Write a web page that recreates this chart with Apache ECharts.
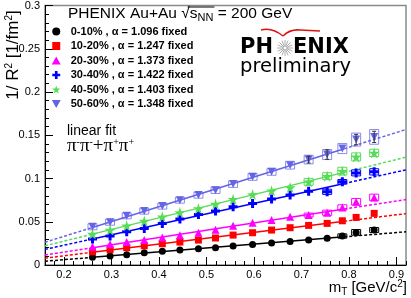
<!DOCTYPE html>
<html><head><meta charset="utf-8">
<script src="https://cdn.jsdelivr.net/npm/echarts@6/dist/echarts.min.js"></script>
<style>html,body{margin:0;padding:0;background:#fff}#c{width:411px;height:298px}</style>
</head><body><div id="c"></div>
<script>
// ---- data ----
const mT = [0.26, 0.297, 0.332, 0.369, 0.407, 0.444, 0.483, 0.519, 0.556, 0.597, 0.637, 0.676, 0.715, 0.754, 0.786, 0.815, 0.853];
const centralities = ['0-10%', '10-20%', '20-30%', '30-40%', '40-50%', '50-60%'];
const alphas = [1.096, 1.247, 1.373, 1.422, 1.403, 1.348];
const invR2_0_10  = [0.0089, 0.0104, 0.0119, 0.0142, 0.0158, 0.0173, 0.0188, 0.0200, 0.0219, 0.0236, 0.0254, 0.0273, 0.0288, 0.0308, 0.0335, 0.0377, 0.0404];
const invR2_10_20 = [0.0153, 0.0177, 0.0200, 0.0223, 0.0246, 0.0265, 0.0288, 0.0312, 0.0346, 0.0373, 0.0404, 0.0431, 0.0458, 0.0481, 0.0511, 0.0550, 0.0597];
const invR2_20_30 = [0.0211, 0.0239, 0.0265, 0.0288, 0.0319, 0.0343, 0.0373, 0.0408, 0.0455, 0.0488, 0.0519, 0.0558, 0.0577, 0.0604, 0.0666, 0.0731, 0.0781];
const invR2_30_40 = [0.0300, 0.0335, 0.0384, 0.0423, 0.0481, 0.0531, 0.0585, 0.0623, 0.0673, 0.0712, 0.0762, 0.0808, 0.0854, 0.0846, 0.0961, 0.1065, 0.1077];
const invR2_40_50 = [0.0358, 0.0404, 0.0454, 0.0508, 0.0557, 0.0608, 0.0654, 0.0704, 0.0761, 0.0815, 0.0858, 0.0896, 0.0961, 0.1027, 0.1085, 0.1250, 0.1296];
const invR2_50_60 = [0.0442, 0.0495, 0.0569, 0.0623, 0.0681, 0.0750, 0.0808, 0.0865, 0.0935, 0.1019, 0.1077, 0.1154, 0.1219, 0.1277, 0.1346, 0.1450, 0.1481];
// systematic errors (half heights of the open boxes)
const sys_0_10  = [0, 0, 0, 0, 0, 0, 0, 0, 0, 0, 0, 0, 0, 0, 0.0025, 0.0033, 0.0029];
const sys_10_20 = [0, 0, 0, 0, 0, 0, 0, 0, 0, 0, 0, 0, 0, 0, 0, 0, 0];
const sys_20_30 = [0, 0, 0, 0, 0, 0, 0, 0, 0, 0, 0, 0, 0.0023, 0.0030, 0.0030, 0.0038, 0.0038];
const sys_30_40 = [0, 0, 0, 0, 0, 0, 0, 0, 0, 0, 0, 0, 0, 0.0030, 0.0027, 0.0035, 0.0036];
const sys_40_50 = [0, 0, 0, 0, 0, 0, 0, 0, 0, 0, 0, 0, 0.0040, 0.0040, 0.0045, 0.0046, 0.0042];
const sys_50_60 = [0.0035, 0.0035, 0.0035, 0.0035, 0.0035, 0.0035, 0.0035, 0.0038, 0.0038, 0.0040, 0.0040, 0.0045, 0.0050, 0.0058, 0.0058, 0.0075, 0.0085];
// statistical errors (visible bars)
const stat_50_60 = [0, 0, 0, 0, 0, 0, 0, 0, 0, 0, 0, 0, 0.0040, 0.0055, 0, 0.0060, 0.0065];
const fitMaxMT = 0.79;
const xTickLabels = [0.2, 0.3, 0.4, 0.5, 0.6, 0.7, 0.8, 0.9];
const yTickLabels = [0, 0.05, 0.1, 0.15, 0.2, 0.25, 0.3];

// ---- styling ----
const X_MIN = 0.16, X_MAX = 0.92;
const colors = ['#000000', '#ff0000', '#ff00ff', '#0000ff', '#55dd55', '#6464e6'];
const symbols = ['circle',
  'path://M0,0H10V10H0Z',
  'path://M5,0L10,9L0,9Z',
  'path://M3,0H6V3H9V6H6V9H3V6H0V3H3Z',
  'path://M50,0L61,35L98,35L68,57L79,91L50,70L21,91L32,57L2,35L39,35Z',
  'path://M0,0L10,0L5,9Z'];
const symSizes = [7, 7, 8, 9, 11, 8];
const seriesY = [invR2_0_10, invR2_10_20, invR2_20_30, invR2_30_40, invR2_40_50, invR2_50_60];
const seriesSys = [sys_0_10, sys_10_20, sys_20_30, sys_30_40, sys_40_50, sys_50_60];

function linfit(xs, ys, xmax) {
  let n = 0, sx = 0, sy = 0, sxx = 0, sxy = 0;
  for (let i = 0; i < xs.length; i++) if (xs[i] <= xmax) {
    n++; sx += xs[i]; sy += ys[i]; sxx += xs[i] * xs[i]; sxy += xs[i] * ys[i];
  }
  const b = (n * sxy - sx * sy) / (n * sxx - sx * sx);
  return [(sy - b * sx) / n, b];
}

const series = [];
seriesY.forEach((ys, k) => {
  const [a, b] = linfit(mT, ys, fitMaxMT);
  const f = x => a + b * x;
  const lineBase = { type: 'line', showSymbol: false, silent: true, z: 1, animation: false, xAxisIndex: 0 };
  series.push(Object.assign({}, lineBase, { name: 'fit' + k, data: [[mT[0], f(mT[0])], [fitMaxMT, f(fitMaxMT)]],
    lineStyle: { color: colors[k], width: 1.5 } }));
  series.push(Object.assign({}, lineBase, { name: 'fitL' + k, data: [[X_MIN, f(X_MIN)], [mT[0], f(mT[0])]],
    lineStyle: { color: colors[k], width: 1.5, type: [3, 2] } }));
  series.push(Object.assign({}, lineBase, { name: 'fitR' + k, data: [[fitMaxMT, f(fitMaxMT)], [X_MAX, f(X_MAX)]],
    lineStyle: { color: colors[k], width: 1.5, type: [3, 2] } }));
  const boxData = [];
  mT.forEach((x, i) => { if (seriesSys[k][i] > 0) boxData.push([x, ys[i], seriesSys[k][i]]); });
  series.push({
    type: 'custom', name: 'sys' + k, silent: true, z: 2, xAxisIndex: 0, data: boxData, encode: { x: 0, y: 1 },
    renderItem: (p, api) => {
      const x = api.value(0), y = api.value(1), e = api.value(2);
      const t = api.coord([x, y + e]), bt = api.coord([x, y - e]);
      const w = 9;
      return { type: 'rect', shape: { x: t[0] - w / 2, y: t[1], width: w, height: bt[1] - t[1] },
        style: { fill: 'none', stroke: colors[k], lineWidth: 1, opacity: k === 5 ? 0.75 : 1 } };
    }
  });
  series.push({
    type: 'scatter', name: centralities[k], z: 3, xAxisIndex: 0,
    symbol: symbols[k], symbolSize: symSizes[k],
    itemStyle: { color: colors[k], opacity: 1 },
    data: mT.map((x, i) => [x, ys[i]])
  });
});
const statData = [];
mT.forEach((x, i) => { if (stat_50_60[i] > 0) statData.push([x, invR2_50_60[i], stat_50_60[i]]); });
series.push({
  type: 'custom', name: 'stat5', silent: true, z: 4, xAxisIndex: 0, data: statData, encode: { x: 0, y: 1 },
  renderItem: (p, api) => {
    const x = api.value(0), y = api.value(1), e = api.value(2);
    const t = api.coord([x, y + e]), bt = api.coord([x, y - e]);
    const st = { stroke: '#333', lineWidth: 1 };
    return { type: 'group', children: [
      { type: 'line', shape: { x1: t[0], y1: t[1], x2: bt[0], y2: bt[1] }, style: st },
      { type: 'line', shape: { x1: t[0] - 2, y1: t[1], x2: t[0] + 2, y2: t[1] }, style: st },
      { type: 'line', shape: { x1: bt[0] - 2, y1: bt[1], x2: bt[0] + 2, y2: bt[1] }, style: st }
    ] };
  }
});

// ---- text layout helpers ----
const ctx = document.createElement('canvas').getContext('2d');
function tw(text, font) { ctx.font = font; return ctx.measureText(text).width; }
const FT = '15.5px "Liberation Sans"', FTs = '11px "Liberation Sans"';
const tY = 14;
let tx = 68;
const titleParts = [];
function addT(text, font, dy) {
  titleParts.push({ type: 'text', x: tx, y: tY + dy, style: { text, font, fill: '#000', textAlign: 'left', textVerticalAlign: 'middle' } });
  const w = tw(text, font); const x0 = tx; tx += w; return [x0, tx];
}
addT('PHENIX Au+Au ', FT, 0);
const sq = addT('√', FT, 0);
addT('s', FT, 0);
const nn = addT('NN', FTs, 4);
addT(' = 200 GeV', FT, 0);

const starRays = [];
const sc = [285, 48];
for (let i = 0; i < 16; i++) {
  const ang = i * Math.PI / 8;
  starRays.push({ type: 'line', shape: { x1: sc[0] + 1.5 * Math.cos(ang), y1: sc[1] + 1.5 * Math.sin(ang), x2: sc[0] + 8 * Math.cos(ang), y2: sc[1] + 8 * Math.sin(ang) },
    style: { stroke: '#999', lineWidth: 0.8 } });
}
const arcStyle = { fill: 'none', stroke: '#e01010', lineWidth: 1.5 };

const chart = echarts.init(document.getElementById('c'), null, { renderer: 'canvas' });
chart.setOption({
  animation: false,
  textStyle: { fontFamily: 'Liberation Sans' },
  grid: { left: 45, right: 5, top: 5, bottom: 33, show: true, borderColor: '#8a8a8a', borderWidth: 1.5, containLabel: false },
  xAxis: [
    { type: 'value', position: 'bottom', min: X_MIN, max: X_MAX, interval: 0.02,
      axisLine: { show: true, onZero: false, lineStyle: { color: '#000', width: 1 } },
      axisTick: { show: true, inside: true, length: 4, lineStyle: { color: '#000' } },
      axisLabel: { show: false }, splitLine: { show: false } },
    { type: 'value', position: 'bottom', min: X_MIN, max: X_MAX,
      axisLine: { show: false, onZero: false },
      axisTick: { show: true, inside: true, length: 8, customValues: xTickLabels, lineStyle: { color: '#000' } },
      axisLabel: { show: true, customValues: xTickLabels, margin: 4, fontSize: 11, color: '#000', fontFamily: 'Liberation Sans' },
      splitLine: { show: false } }
  ],
  yAxis: { type: 'value', min: 0, max: 0.3, interval: 0.05,
    axisLine: { show: true, onZero: false, lineStyle: { color: '#000', width: 1 } },
    axisTick: { show: true, inside: true, length: 8, lineStyle: { color: '#000' } },
    minorTick: { show: true, splitNumber: 5, length: 4, lineStyle: { color: '#000' } },
    axisLabel: { margin: 5, fontSize: 11, color: '#000', fontFamily: 'Liberation Sans',
      customValues: yTickLabels, formatter: v => String(v) },
    splitLine: { show: false } },
  legend: {
    orient: 'vertical', left: 51.8, top: 25.5, padding: 0, itemWidth: 19, itemHeight: 8, itemGap: 2.5,
    selectedMode: false, data: centralities, symbolKeepAspect: true,
    textStyle: { fontFamily: 'Liberation Sans', fontWeight: 'bold', fontSize: 11, lineHeight: 12, color: '#000' },
    formatter: name => name + ' , α = ' + alphas[centralities.indexOf(name)].toFixed(3) + ' fixed'
  },
  graphic: [
    ...titleParts,
    { type: 'line', shape: { x1: sq[0] + (sq[1] - sq[0]) * 0.75, y1: tY - 7, x2: nn[1] + 1, y2: tY - 7 }, style: { stroke: '#000', lineWidth: 1 } },
    { type: 'text', x: 240, y: 48, style: { text: 'PH', font: 'bold 21px "DejaVu Sans"', fill: '#000', textAlign: 'left', textVerticalAlign: 'middle' } },
    { type: 'text', x: 293, y: 48, style: { text: 'ENIX', font: 'bold 21px "DejaVu Sans"', fill: '#000', textAlign: 'left', textVerticalAlign: 'middle' } },
    { type: 'text', x: 240, y: 67, style: { text: 'preliminary', font: '19.5px "DejaVu Sans"', fill: '#000', textAlign: 'left', textVerticalAlign: 'middle' } },
    { type: 'group', children: starRays },
    { type: 'bezierCurve', shape: { x1: 261, y1: 30, cpx1: 272, cpy1: 27, x2: 283, y2: 36 }, style: arcStyle },
    { type: 'bezierCurve', shape: { x1: 283, y1: 36, cpx1: 290, cpy1: 29, x2: 300, y2: 30 }, style: arcStyle },
    { type: 'line', shape: { x1: 300, y1: 30, x2: 320, y2: 31 }, style: arcStyle },
    { type: 'text', x: 67, y: 131, style: { text: 'linear fit', font: '14px "Liberation Sans"', fill: '#000', textAlign: 'left', textVerticalAlign: 'middle' } },
    { type: 'text', x: 67, y: 146, style: { text: '{p|π}{s|-}{p|π}{s|-}{p|+π}{s|+}{p|π}{s|+}', fill: '#000', textAlign: 'left', textVerticalAlign: 'middle',
      rich: { p: { fontFamily: 'Liberation Serif', fontSize: 19, lineHeight: 18, fill: '#000' }, s: { fontFamily: 'Liberation Serif', fontSize: 10, lineHeight: 10, verticalAlign: 'top', fill: '#000' } } } },
    { type: 'text', x: 13, y: 55, rotation: Math.PI / 2, style: { text: '{n|1/ R}{s|2}{n| [1/fm}{s|2}{n|]}', fill: '#000', textAlign: 'center', textVerticalAlign: 'middle',
      rich: { n: { fontFamily: 'Liberation Sans', fontSize: 17, lineHeight: 18, fill: '#000' }, s: { fontFamily: 'Liberation Sans', fontSize: 10, lineHeight: 10, verticalAlign: 'top', fill: '#000' } } } },
    { type: 'text', x: 407, y: 288, style: { text: '{n|m}{b|T}{n| [GeV/c}{s|2}{n|]}', fill: '#000', textAlign: 'right', textVerticalAlign: 'middle',
      rich: { n: { fontFamily: 'Liberation Sans', fontSize: 15, lineHeight: 18, fill: '#000' }, b: { fontFamily: 'Liberation Sans', fontSize: 10, lineHeight: 10, verticalAlign: 'bottom', fill: '#000' }, s: { fontFamily: 'Liberation Sans', fontSize: 10, lineHeight: 10, verticalAlign: 'top', fill: '#000' } } } }
  ],
  series
});
</script></body></html>
